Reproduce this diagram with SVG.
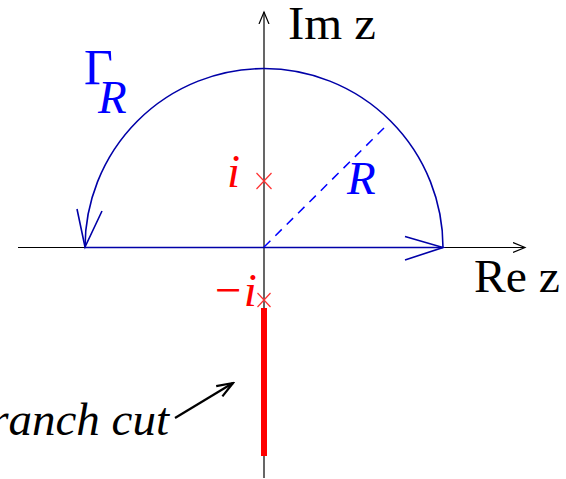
<svg xmlns="http://www.w3.org/2000/svg" width="566" height="479" viewBox="0 0 566 479">
<style>
  text { font-family: "Liberation Serif", "Times New Roman", serif; font-size: 47px; }
  .it { font-style: italic; }
  .blue { fill: #0000ff; }
  .red { fill: #ff0000; }
  .blk { fill: #000000; }
  .axis { stroke: #000; stroke-width: 1.2; fill: none; }
  .contour { stroke: #0000a8; stroke-width: 1.6; fill: none; }
  .cross { stroke: #ff3030; stroke-width: 1.2; fill: none; }
</style>
<defs>
  <marker id="ahead" markerWidth="14" markerHeight="12" refX="12" refY="6" orient="auto" markerUnits="userSpaceOnUse">
    <path d="M0,1 L12,6 L0,11" fill="none" stroke="#000" stroke-width="1.2"/>
  </marker>
  <marker id="bhead" markerWidth="20" markerHeight="16" refX="18" refY="8" orient="auto" markerUnits="userSpaceOnUse">
    <path d="M2,2 L18,8 L2,14" fill="none" stroke="#000" stroke-width="2.2"/>
  </marker>
</defs>
<g id="connectors">
  <line class="axis" x1="18" y1="247.5" x2="525" y2="247.5" marker-end="url(#ahead)"/>
  <line class="axis" x1="264" y1="478" x2="264" y2="12" marker-end="url(#ahead)"/>
  <line x1="264" y1="308" x2="264" y2="456" stroke="#ff0000" stroke-width="6"/>
  <line x1="175" y1="418" x2="233" y2="383" stroke="#000" stroke-width="2.2" marker-end="url(#bhead)"/>
</g>
<g id="contour">
  <line class="contour" x1="85" y1="247.5" x2="443" y2="247.5" stroke="#000080"/>
  <path class="contour" d="M443,247.5 A179,179 0 0 0 85,247.5"/>
  <path class="contour" d="M77,209 L85,247 L102,211"/>
  <path class="contour" d="M405,236.5 L443,247.5 L405,260"/>
  <line x1="264" y1="247" x2="385" y2="127" stroke="#0000ff" stroke-width="1.5" stroke-dasharray="9,7"/>
</g>
<g id="pole-i">
  <path class="cross" d="M256.5,173 L271.5,189 M271.5,173 L256.5,189"/>
  <text class="it red" x="227" y="187">i</text>
</g>
<g id="pole-minus-i">
  <path class="cross" d="M257.5,293 L270.5,307 M270.5,293 L257.5,307"/>
  <text class="it red" x="212" y="306">−i</text>
</g>
<g id="labels">
  <text class="blk" x="288" y="39" font-size="44" textLength="88" lengthAdjust="spacingAndGlyphs">Im z</text>
  <text class="blk" x="474" y="292" font-size="44" textLength="86" lengthAdjust="spacingAndGlyphs">Re z</text>
  <text class="blue"><tspan x="84" y="84" font-size="50">Γ</tspan><tspan class="it" x="98" y="113">R</tspan></text>
  <text class="it blue" x="347" y="194">R</text>
  <text class="it blk" x="169" y="435" text-anchor="end">branch cut</text>
</g>
</svg>
